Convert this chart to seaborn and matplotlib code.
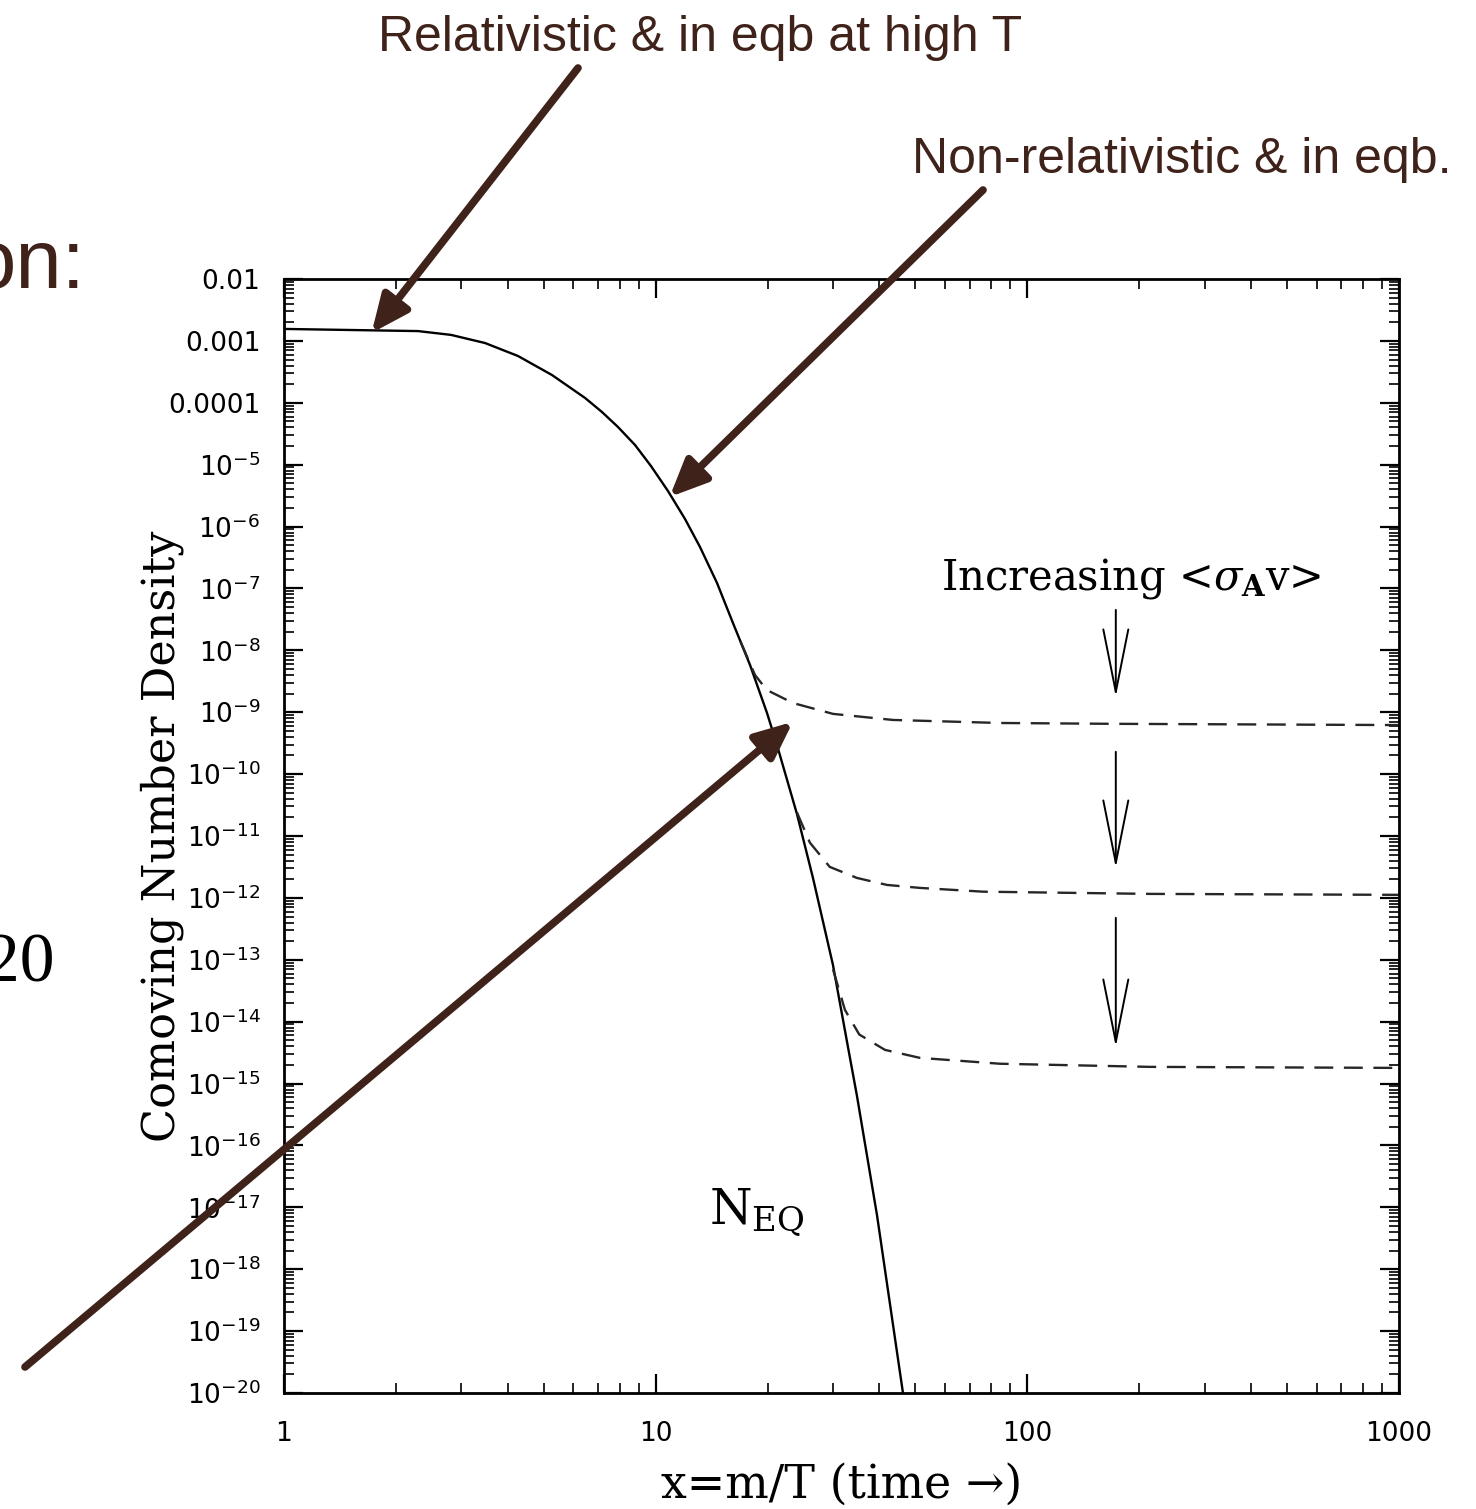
import numpy as np
import pandas as pd
import matplotlib
matplotlib.use("Agg")
import matplotlib.pyplot as plt
import seaborn as sns
from matplotlib.ticker import FixedLocator, FixedFormatter, LogLocator, NullFormatter

# ---------------- data ----------------
eq_x = [1.0, 1.505, 2.294, 2.814, 3.474, 4.262, 5.26, 6.453, 7.169, 7.918, 8.799,
        9.712, 10.79, 11.99, 13.16, 14.62, 16.14, 17.94, 19.93, 21.2, 22.98, 23.99,
        26.5, 29.99, 32.91, 34.8, 39.39, 46.28]
eq_y = [1.56e-3, 1.50e-3, 1.44e-3, 1.25e-3, 9.24e-4, 5.70e-4, 2.81e-4, 1.20e-4,
        7.10e-5, 4.06e-5, 2.08e-5, 9.52e-6, 3.76e-6, 1.33e-6, 4.68e-7, 1.23e-7,
        2.77e-8, 5.81e-9, 9.75e-10, 2.96e-10, 5.56e-11, 2.28e-11, 2.10e-12,
        8.28e-14, 3.92e-15, 6.33e-16, 7.57e-18, 1.0e-20]

top_x = [16.9, 18.5, 19.9, 23.4, 30.0, 43.5, 84.4, 167, 1000]
top_y = [1.4e-8, 4.0e-9, 2.29e-9, 1.41e-9, 9.4e-10, 7.5e-10, 6.7e-10, 6.5e-10, 6.2e-10]

mid_x = [24.0, 26.0, 29.4, 34.8, 41.9, 51.4, 76.0, 214, 1000]
mid_y = [2.4e-11, 7.8e-12, 3.17e-12, 2.1e-12, 1.62e-12, 1.45e-12, 1.26e-12, 1.16e-12, 1.12e-12]

bot_x = [30.0, 32.3, 35.3, 41.4, 51.4, 84.4, 214, 1000]
bot_y = [7.0e-14, 1.55e-14, 6.2e-15, 3.5e-15, 2.6e-15, 2.09e-15, 1.86e-15, 1.79e-15]

x_ticks = [1, 10, 100, 1000]
x_tick_labels = ["1", "10", "100", "1000"]
y_ticks = [1e-2, 1e-3, 1e-4, 1e-5, 1e-6, 1e-7, 1e-8, 1e-9, 1e-10, 1e-11, 1e-12,
           1e-13, 1e-14, 1e-15, 1e-16, 1e-17, 1e-18, 1e-19, 1e-20]
y_tick_labels = ["0.01", "0.001", "0.0001", r"$10^{-5}$", r"$10^{-6}$", r"$10^{-7}$",
                 r"$10^{-8}$", r"$10^{-9}$", r"$10^{-10}$", r"$10^{-11}$", r"$10^{-12}$",
                 r"$10^{-13}$", r"$10^{-14}$", r"$10^{-15}$", r"$10^{-16}$", r"$10^{-17}$",
                 r"$10^{-18}$", r"$10^{-19}$", r"$10^{-20}$"]

# ---------------- style ----------------
sns.set_theme(style="ticks")
plt.rcParams["font.family"] = ["DejaVu Sans"]
BROWN = "#3f2219"

fig = plt.figure(figsize=(14.76, 15.09), dpi=100)
ax = fig.add_axes([284 / 1476, 1 - 1393 / 1509, 1115 / 1476, 1114 / 1509])
ax.set_xscale("log")
ax.set_yscale("log")

eq_df = pd.DataFrame({"x": eq_x, "y": eq_y})
sns.lineplot(data=eq_df, x="x", y="y", ax=ax, color="black", lw=1.7,
             estimator=None, errorbar=None)
for xs, ys in [(top_x, top_y), (mid_x, mid_y), (bot_x, bot_y)]:
    df = pd.DataFrame({"x": xs, "y": ys})
    sns.lineplot(data=df, x="x", y="y", ax=ax, color="#262626", lw=1.7,
                 linestyle=(0, (8, 4.5)), estimator=None, errorbar=None)

ax.set_xlim(1, 1000)
ax.set_ylim(1e-20, 1e-2)

ax.xaxis.set_major_locator(FixedLocator(x_ticks))
ax.xaxis.set_major_formatter(FixedFormatter(x_tick_labels))
ax.yaxis.set_major_locator(FixedLocator(y_ticks))
ax.yaxis.set_major_formatter(FixedFormatter(y_tick_labels))
ax.xaxis.set_minor_locator(LogLocator(base=10, subs=np.arange(2, 10), numticks=50))
ax.yaxis.set_minor_locator(LogLocator(base=10, subs=np.arange(2, 10), numticks=50))
ax.xaxis.set_minor_formatter(NullFormatter())
ax.yaxis.set_minor_formatter(NullFormatter())

ax.tick_params(which="both", direction="in", top=True, right=True, color="black")
ax.tick_params(which="major", length=14, width=1.6)
ax.tick_params(which="minor", length=7, width=1.2)
ax.tick_params(axis="y", which="major", pad=17, labelsize=19, labelcolor="black")
ax.tick_params(axis="x", which="major", pad=20, labelsize=19, labelcolor="black")
for t in ax.get_yticklabels() + ax.get_xticklabels():
    t.set_math_fontfamily("dejavusans")
for s in ax.spines.values():
    s.set_linewidth(2)
    s.set_color("black")

ax.set_xlabel("x=m/T (time →)", fontsize=33, family="DejaVu Serif", color="black")
ax.set_ylabel("Comoving Number Density", fontsize=32, family="DejaVu Serif", color="black")
ax.xaxis.set_label_coords(0.5, -0.062)
ax.yaxis.set_label_coords(-0.090, 0.5)

# in-plot labels
ax.text(190, 9.5e-8, r"Increasing <$\sigma_{\mathbf{A}}$v>", fontsize=30,
        family="DejaVu Serif", math_fontfamily="dejavuserif", ha="center",
        va="baseline", color="black")
ax.text(18.7, 10 ** -17.28, r"$\mathrm{N}_{\mathrm{EQ}}$", fontsize=35,
        math_fontfamily="dejavuserif", ha="center", va="baseline", color="black")

# black arrows
for y0, y1 in [(4.5e-8, 1.77e-9), (2.29e-10, 3.05e-12), (4.75e-13, 3.9e-15)]:
    ax.annotate("", xy=(173, y1), xytext=(173, y0), xycoords="data",
                arrowprops=dict(arrowstyle="->,head_length=4.5,head_width=0.9",
                                mutation_scale=10, lw=1.4, color="black",
                                shrinkA=0, shrinkB=0))

# brown annotation arrows
ap = dict(arrowstyle="-|>,head_length=0.45,head_width=0.2", mutation_scale=50,
          lw=5.5, color=BROWN, shrinkA=0, shrinkB=0)
ax.annotate("", xy=(1.72, 1.34e-3), xycoords="data", xytext=(578 / 1476, 1 - 68 / 1509),
            textcoords="figure fraction", arrowprops=ap, annotation_clip=False)
ax.annotate("", xy=(10.9, 3.0e-6), xycoords="data", xytext=(983 / 1476, 1 - 190 / 1509),
            textcoords="figure fraction", arrowprops=ap, annotation_clip=False)
ax.annotate("", xy=(23.4, 7.0e-10), xycoords="data", xytext=(25 / 1476, 1 - 1367 / 1509),
            textcoords="figure fraction", arrowprops=ap, annotation_clip=False)

fig.text(700 / 1476, 1 - 38 / 1509, "Relativistic & in eqb at high T", fontsize=36,
         family="Liberation Sans", color=BROWN, ha="center", va="center")
fig.text(1182 / 1476, 1 - 160 / 1509, "Non-relativistic & in eqb.", fontsize=36,
         family="Liberation Sans", color=BROWN, ha="center", va="center")
fig.text(85 / 1476, 1 - 288 / 1509, "on:", fontsize=60, family="Liberation Sans",
         color=BROWN, ha="right", va="baseline")
fig.text(55 / 1476, 1 - 982 / 1509, "20", fontsize=50, family="Liberation Serif",
         color="black", ha="right", va="baseline")

fig.savefig("out.png", dpi=100, facecolor="white")
